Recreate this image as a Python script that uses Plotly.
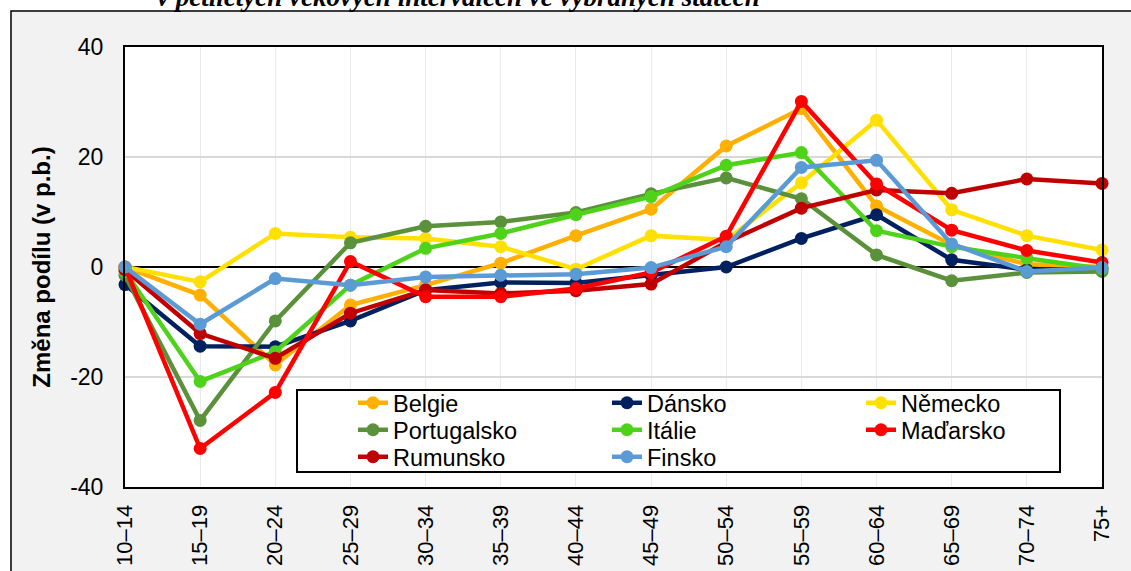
import plotly.graph_objects as go

# věkové skupiny
vek = ["10–14", "15–19", "20–24", "25–29", "30–34", "35–39", "40–44",
       "45–49", "50–54", "55–59", "60–64", "65–69", "70–74", "75+"]

# změna podílu v p.b.
belgie = [0, -5.1, -17.8, -6.9, -3.3, 0.7, 5.7, 10.5, 22.0, 28.8, 11.1, 4.0, 0.5, 0.0]
dansko = [-3.2, -14.4, -14.5, -9.8, -4.2, -2.8, -2.9, -1.5, 0.0, 5.2, 9.5, 1.3, -0.5, -0.3]
nemecko = [0, -2.7, 6.1, 5.4, 5.2, 3.7, -0.4, 5.7, 4.9, 15.3, 26.7, 10.4, 5.7, 3.1]
portugalsko = [-1.5, -27.9, -9.8, 4.4, 7.4, 8.2, 9.9, 13.3, 16.2, 12.4, 2.2, -2.5, -1.0, -0.8]
italie = [-0.8, -20.8, -15.4, -3.3, 3.4, 6.1, 9.5, 12.8, 18.5, 20.8, 6.6, 3.7, 1.6, -0.3]
madarsko = [0, -33.0, -22.8, 1.0, -5.4, -5.4, -3.9, -1.0, 5.6, 30.1, 15.1, 6.7, 3.0, 0.8]
rumunsko = [-0.5, -12.1, -16.6, -8.4, -4.2, -4.8, -4.3, -3.1, 4.5, 10.7, 14.0, 13.4, 16.0, 15.2]
finsko = [0, -10.4, -2.1, -3.3, -1.8, -1.5, -1.3, -0.1, 3.7, 18.1, 19.4, 4.2, -0.8, -0.1]

y_ticks = [-40, -20, 0, 20, 40]
y_labels = ["-40", "-20", "0", "20", "40"]

# (název, hodnoty, barva, řádek legendy)
serie = [
    ("Belgie", belgie, "#FFB000", "legend"),
    ("Dánsko", dansko, "#002060", "legend"),
    ("Německo", nemecko, "#FFE000", "legend"),
    ("Portugalsko", portugalsko, "#5B913B", "legend2"),
    ("Itálie", italie, "#4FD31A", "legend2"),
    ("Maďarsko", madarsko, "#FF0000", "legend2"),
    ("Rumunsko", rumunsko, "#C00000", "legend3"),
    ("Finsko", finsko, "#5B9BD5", "legend3"),
]

# pořadí vykreslení (poslední nahoře)
poradi = ["Belgie", "Dánsko", "Německo", "Portugalsko", "Itálie",
          "Rumunsko", "Maďarsko", "Finsko"]

fig = go.Figure()
for i, (nazev, hodnoty, barva, leg) in enumerate(serie):
    fig.add_trace(go.Scatter(
        x=vek, y=hodnoty, name=nazev, mode="lines+markers",
        line=dict(color=barva, width=4.5),
        marker=dict(color=barva, size=13),
        cliponaxis=False,
        legend=leg, legendrank=i + 1,
    ))
fig.data = tuple(sorted(fig.data, key=lambda t: poradi.index(t.name)))

L, R, T, B = 125, 29, 47, 84
W, H = 1131, 571
pw, ph = W - L - R, H - T - B


def px(x):
    return (x - L) / pw


def py(y):
    return (H - B - y) / ph


leg_common = dict(
    orientation="h", xanchor="left", yanchor="middle",
    bgcolor="rgba(0,0,0,0)", borderwidth=0,
    font=dict(size=23.5), entrywidth=209, entrywidthmode="pixels",
    traceorder="normal", x=px(353),
)

fig.update_layout(
    width=W, height=H,
    margin=dict(l=L, r=R, t=T, b=B),
    paper_bgcolor="white",
    plot_bgcolor="rgba(0,0,0,0)",
    font=dict(family="Liberation Sans, Arial", size=22, color="black"),
    showlegend=True,
    legend=dict(leg_common, y=py(403)),
    legend2=dict(leg_common, y=py(430)),
    legend3=dict(leg_common, y=py(457)),
    shapes=[
        # šedé pozadí grafu s rámečkem
        dict(type="rect", xref="paper", yref="paper",
             x0=px(11), x1=px(W + 20), y0=py(H + 20), y1=py(11),
             fillcolor="#F2F2F2", line=dict(color="black", width=1.5), layer="below"),
        # bílá plocha grafu
        dict(type="rect", xref="paper", yref="paper", x0=0, x1=1, y0=0, y1=1,
             fillcolor="white", line=dict(width=0), layer="below"),
        # rámeček legendy
        dict(type="rect", xref="paper", yref="paper",
             x0=px(297), x1=px(1060), y0=py(472), y1=py(390),
             fillcolor="white", line=dict(color="black", width=2), layer="above"),
    ],
    annotations=[
        dict(text="v pětiletých věkových intervalech ve vybraných státech",
             xref="paper", yref="paper", x=px(458), y=py(14),
             xanchor="center", yanchor="bottom", showarrow=False,
             font=dict(family="Liberation Serif", size=27, weight="bold",
                       style="italic", color="black")),
    ],
)

fig.update_xaxes(
    type="category", range=[0, len(vek) - 1],
    tickangle=-90, tickfont=dict(size=22),
    showgrid=True, gridcolor="#EAEAEA", gridwidth=1,
    showline=True, linecolor="black", linewidth=2, mirror=True,
    ticks="", ticklabelstandoff=7,
    automargin=False,
)
fig.update_yaxes(
    range=[-40, 40], tickvals=y_ticks, ticktext=y_labels,
    tickfont=dict(size=23),
    showgrid=True, gridcolor="#D9D9D9", gridwidth=1.5,
    zeroline=True, zerolinecolor="black", zerolinewidth=1.5,
    showline=True, linecolor="black", linewidth=2, mirror=True,
    ticks="", ticklabelstandoff=15,
    title=dict(text="<b>Změna podílu (v p.b.)</b>", font=dict(size=24), standoff=13),
    automargin=False,
)

fig.write_html("out.html", config={"displayModeBar": False},
               post_script="document.body.style.margin='0';")
